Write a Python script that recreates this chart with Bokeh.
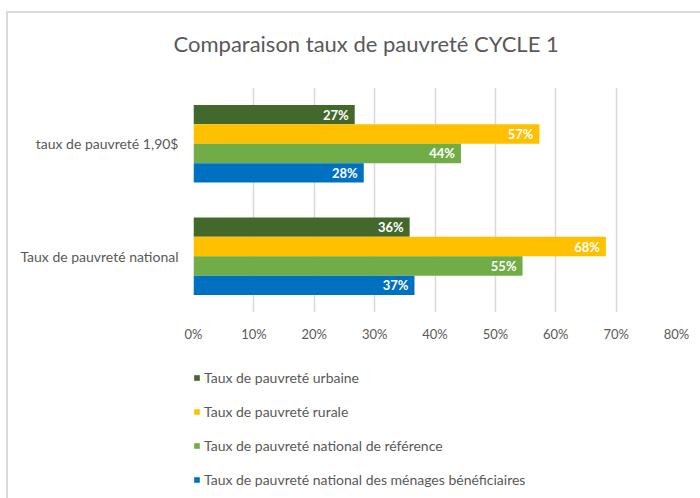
from bokeh.plotting import figure
from bokeh.layouts import column
from bokeh.models import (FactorRange, ColumnDataSource, Legend, LegendItem,
                          NumeralTickFormatter, FixedTicker, LinearAxis)
from bokeh.transform import dodge
from bokeh.core.properties import value
from bokeh.embed import file_html
from bokeh.resources import INLINE

# ---- data ----
categories = ["Taux de pauvreté national", "taux de pauvreté 1,90$"]
series_names = [
    "Taux de pauvreté urbaine",
    "Taux de pauvreté rurale",
    "Taux de pauvreté national de référence",
    "Taux de pauvreté national des ménages bénéficiaires",
]
urbaine = [0.358, 0.267]
rurale = [0.683, 0.573]
reference = [0.545, 0.443]
beneficiaires = [0.366, 0.282]
x_ticks = [0.0, 0.1, 0.2, 0.3, 0.4, 0.5, 0.6, 0.7, 0.8]
title_text = "Comparaison taux de pauvreté CYCLE 1"

series_values = [urbaine, rurale, reference, beneficiaires]
colors = ["#43682B", "#FFC000", "#70AD47", "#0070C0"]
offsets = [0.259, 0.086, -0.086, -0.259]
bar_h = 0.1725
FONT = "Lato"
GREY = "#595959"

# ---- main chart ----
p = figure(width=692, height=340, output_backend="svg", toolbar_location=None,
           y_range=FactorRange(factors=categories), x_range=(0, 0.8),
           min_border_left=185, min_border_right=24, min_border_top=74,
           min_border_bottom=41)

# invisible spacer axis between title and plot area (one unlabeled, uncoloured tick)
spacer = LinearAxis(ticker=FixedTicker(ticks=[0.4], minor_ticks=[]),
                    major_label_overrides={0.4: ""},
                    axis_line_color=None, major_tick_line_color=None,
                    minor_tick_line_color=None, major_tick_in=0,
                    major_tick_out=26, minor_tick_out=0,
                    major_label_standoff=0)
p.add_layout(spacer, "above")

p.title.text = title_text
p.title.text_font = FONT
p.title.text_font_size = "22px"
p.title.text_font_style = "normal"
p.title.text_color = GREY
p.title.align = "left"
p.title.offset = -20
p.title.standoff = 10

p.outline_line_color = None
p.background_fill_color = "white"
p.border_fill_color = "white"

for name, vals, col, off in zip(series_names, series_values, colors, offsets):
    src = ColumnDataSource(dict(cat=categories, v=vals,
                                lab=[f"{round(v * 100)}%" for v in vals]))
    p.hbar(y=dodge("cat", off, range=p.y_range), right="v", left=0,
           height=bar_h, color=col, line_color=None, source=src)
    p.text(x="v", y=dodge("cat", off, range=p.y_range), text="lab", source=src,
           x_offset=-6, text_align="right", text_baseline="middle",
           text_color="white", text_font=value(FONT), text_font_style="bold",
           text_font_size="13px")

xa = p.below[0]
xa.ticker = FixedTicker(ticks=x_ticks)
xa.formatter = NumeralTickFormatter(format="0%")
xa.axis_line_color = None
xa.major_tick_line_color = None
xa.minor_tick_line_color = None
xa.major_label_text_font = FONT
xa.major_label_text_font_size = "13px"
xa.major_label_text_color = GREY
xa.major_label_standoff = 7

p.yaxis.axis_line_color = None
p.yaxis.major_tick_line_color = None
p.yaxis.major_label_text_font = FONT
p.yaxis.major_label_text_font_size = "14px"
p.yaxis.major_label_text_color = GREY
p.yaxis.major_label_standoff = 9

p.xgrid.grid_line_color = "#D9D9D9"
p.xgrid.grid_line_width = 1.5
p.ygrid.grid_line_color = None

# ---- legend strip (same series, same colours) ----
pl = figure(width=692, height=145, output_backend="svg", toolbar_location=None,
            x_range=(0, 1), y_range=(0, 1), x_axis_type=None, y_axis_type=None,
            min_border_left=0, min_border_right=0, min_border_top=0,
            min_border_bottom=0)
pl.outline_line_color = None
pl.grid.grid_line_color = None
pl.background_fill_color = "white"
pl.border_fill_color = "white"

items = []
for name, col in zip(series_names, colors):
    # swatch renderer kept outside the visible range: only its legend entry shows
    r = pl.hbar(y=[-10], right=[0.5], left=0, height=0.1, color=col,
                line_color=None)
    items.append(LegendItem(label=name, renderers=[r]))

legend = Legend(items=items, location=(0, 10), orientation="vertical",
                glyph_width=7, glyph_height=7, label_standoff=4,
                label_text_font=FONT, label_text_font_size="14px",
                label_text_color=GREY, label_height=16, spacing=17,
                padding=0, margin=0, background_fill_alpha=0,
                border_line_color=None)
pl.add_layout(legend, "center")

layout = column(p, pl, spacing=0)
layout.styles = {"border-left": "2px solid #D9D9D9", "border-top": "2px solid #D9D9D9",
                 "margin-left": "6px", "margin-top": "11px"}

open("out.html", "w").write(file_html(layout, INLINE))
